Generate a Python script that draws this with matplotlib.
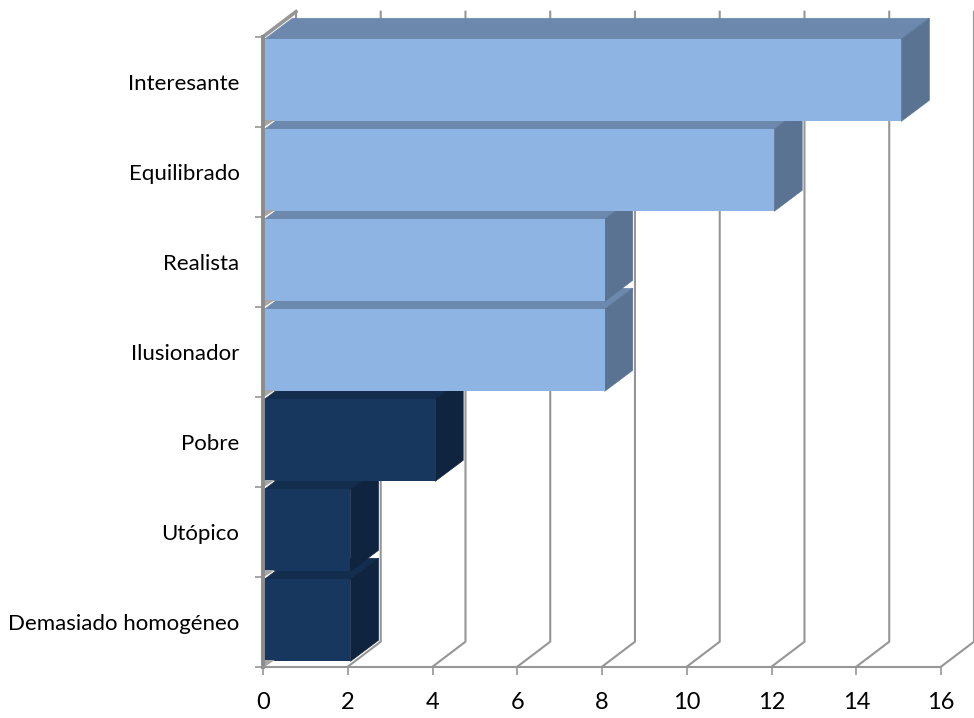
import matplotlib
matplotlib.use("Agg")
import matplotlib.pyplot as plt
from matplotlib.patches import Polygon

plt.rcParams["font.family"] = ["Lato", "DejaVu Sans"]

categories = ["Demasiado homogéneo", "Utópico", "Pobre", "Ilusionador",
              "Realista", "Equilibrado", "Interesante"]
values = [2, 2, 4, 8, 8, 12, 15]
x_ticks = [0, 2, 4, 6, 8, 10, 12, 14, 16]

light = ("#8EB4E3", "#6C88AD", "#5A7393")
dark = ("#17375E", "#132D4E", "#0F243E")
bar_colors = [dark, dark, dark, light, light, light, light]
grid_color = "#969696"

# pseudo 3d offsets, in data units (42.4 px per x unit, 90 px per category)
wall_dx, wall_dy = 33 / 42.4, 25 / 90
bar_dx, bar_dy = 28 / 42.4, 21 / 90
bar_left = 1.5 / 42.4
bar_shift = 2.7 / 42.4
bar_height = 82 / 90

fig = plt.figure(figsize=(9.74, 7.18), dpi=100)
ax = fig.add_axes([263 / 974, 1 - 666.7 / 718, 678 / 974, 630 / 718])
ax.set_xlim(0, 16)
ax.set_ylim(0, 7)

# floor and back wall lines
for v in x_ticks:
    ax.plot([v, v + wall_dx, v + wall_dx], [0, wall_dy, 7 + wall_dy],
            color=grid_color, lw=1.5, clip_on=False, zorder=1, solid_joinstyle="miter")
ax.plot([0, wall_dx], [7, 7 + wall_dy], color=grid_color, lw=2.6, clip_on=False, zorder=1)

# drawn bottom to top so that each bar covers the top face of the one below
for i, (v, cols) in enumerate(zip(values, bar_colors)):
    z = 2 + i
    y0 = i + 0.06
    y1 = y0 + bar_height
    x1 = bar_shift + v
    ax.add_patch(Polygon([(bar_left, y1), (x1, y1), (x1 + bar_dx, y1 + bar_dy),
                          (bar_left + bar_dx, y1 + bar_dy)],
                         closed=True, fc=cols[1], ec=cols[1], lw=0.5, zorder=z, clip_on=False))
    ax.add_patch(Polygon([(x1, y0), (x1 + bar_dx, y0 + bar_dy),
                          (x1 + bar_dx, y1 + bar_dy), (x1, y1)],
                         closed=True, fc=cols[2], ec=cols[2], lw=0.5, zorder=z, clip_on=False))
    ax.barh(y0 + bar_height / 2, x1 - bar_left, height=bar_height, left=bar_left,
            color=cols[0], zorder=z, clip_on=False)
    # bit of side wall showing between two bars
    ax.add_patch(Polygon([(bar_left, i), (bar_left, i + 7 / 90), (bar_left + 11 / 42.4, i + 7 / 90)],
                         closed=True, fc="#A6A6A6", ec="none", zorder=20, clip_on=False))

for side in ("top", "right"):
    ax.spines[side].set_visible(False)
ax.spines["left"].set_color("#8C8C8C")
ax.spines["left"].set_linewidth(2.8)
ax.spines["bottom"].set_color(grid_color)
ax.spines["bottom"].set_linewidth(1.5)
for s in ax.spines.values():
    s.set_zorder(30)

ax.set_xticks(x_ticks)
ax.set_xticklabels([str(v) for v in x_ticks], fontsize=17)
ax.set_yticks(range(8))
ax.set_yticklabels([])
ax.set_yticks([i + 0.5 for i in range(7)], labels=categories, minor=True, fontsize=16)
ax.tick_params(axis="both", which="major", color=grid_color, width=1.2, length=6, pad=12)
ax.tick_params(axis="y", which="minor", length=0, pad=17)

plt.savefig("out.png", dpi=100)
